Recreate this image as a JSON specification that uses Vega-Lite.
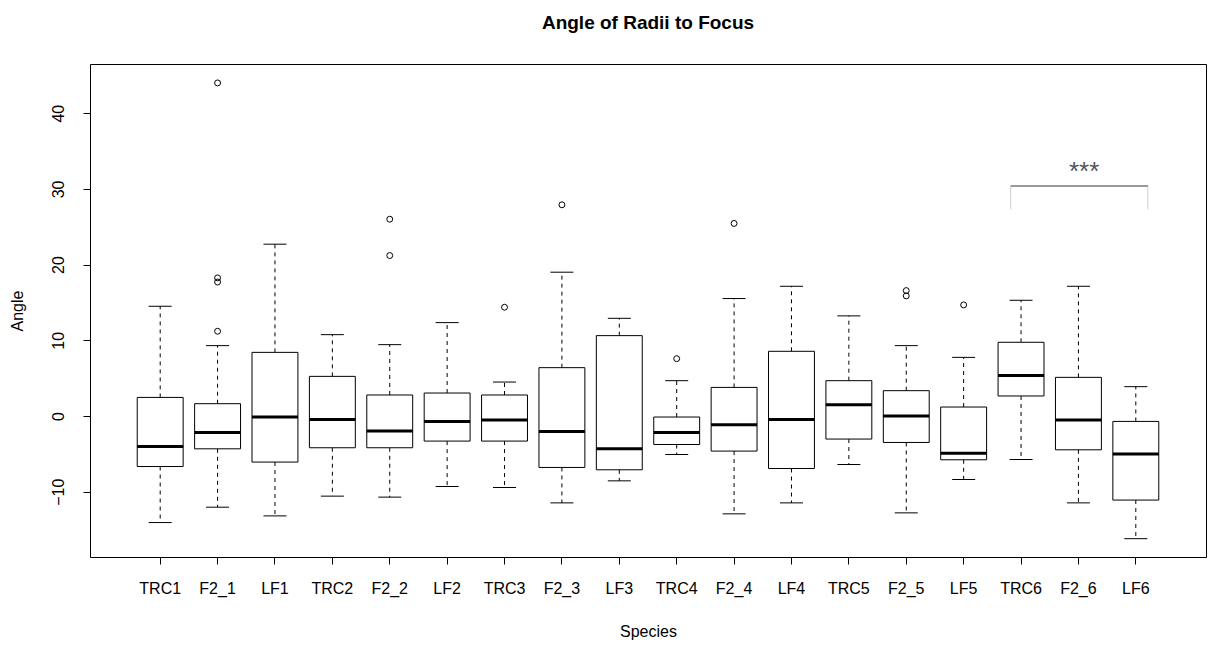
{
  "$schema": "https://vega.github.io/schema/vega-lite/v6.json",
  "width": 1116,
  "height": 493,
  "autosize": {"type": "none"},
  "padding": {"left": 90, "top": 64, "right": 2, "bottom": 89},
  "background": "white",
  "title": {"text": "Angle of Radii to Focus", "fontSize": 19, "fontWeight": "bold", "font": "Liberation Sans", "color": "black", "anchor": "middle", "offset": 16, "baseline": "alphabetic"},
  "config": {
    "view": {"stroke": "black", "strokeWidth": 1},
    "font": "Liberation Sans",
    "axis": {"domain": false, "grid": false, "tickColor": "black", "tickSize": 7, "tickWidth": 1, "labelColor": "black", "labelFont": "Liberation Sans", "labelFontSize": 16, "titleFont": "Liberation Sans", "titleFontSize": 16, "titleFontWeight": "normal", "titleColor": "black", "labelFlush": false, "labelOverlap": false},
    "axisX": {"labelAngle": 0, "labelPadding": 16, "titleY": 74, "titleBaseline": "middle"},
    "axisY": {"labelAngle": -90, "labelAlign": "center", "labelBaseline": "bottom", "labelPadding": 17, "titleX": -73, "titleBaseline": "middle"}
  },
  "datasets": {
    "boxes": [
      {"species": "TRC1", "lo": -14.07, "q1": -6.67, "med": -4.02, "q3": 2.46, "hi": 14.5},
      {"species": "F2_1", "lo": -12.04, "q1": -4.33, "med": -2.17, "q3": 1.63, "hi": 9.3},
      {"species": "LF1", "lo": -13.19, "q1": -6.08, "med": -0.13, "q3": 8.41, "hi": 22.7},
      {"species": "TRC2", "lo": -10.58, "q1": -4.19, "med": -0.45, "q3": 5.24, "hi": 10.75},
      {"species": "F2_2", "lo": -10.71, "q1": -4.19, "med": -1.98, "q3": 2.78, "hi": 9.43},
      {"species": "LF2", "lo": -9.31, "q1": -3.31, "med": -0.71, "q3": 3.04, "hi": 12.34},
      {"species": "TRC3", "lo": -9.44, "q1": -3.31, "med": -0.53, "q3": 2.78, "hi": 4.49},
      {"species": "F2_3", "lo": -11.47, "q1": -6.79, "med": -2.03, "q3": 6.39, "hi": 19.0},
      {"species": "LF3", "lo": -8.56, "q1": -7.1, "med": -4.33, "q3": 10.62, "hi": 12.91},
      {"species": "TRC4", "lo": -5.08, "q1": -3.76, "med": -2.17, "q3": -0.13, "hi": 4.67},
      {"species": "F2_4", "lo": -12.92, "q1": -4.63, "med": -1.15, "q3": 3.78, "hi": 15.52},
      {"species": "LF4", "lo": -11.47, "q1": -6.93, "med": -0.45, "q3": 8.55, "hi": 17.14},
      {"species": "TRC5", "lo": -6.4, "q1": -3.04, "med": 1.49, "q3": 4.67, "hi": 13.23},
      {"species": "F2_5", "lo": -12.79, "q1": -3.49, "med": 0.0, "q3": 3.35, "hi": 9.3},
      {"species": "LF5", "lo": -8.38, "q1": -5.78, "med": -4.9, "q3": 1.19, "hi": 7.75},
      {"species": "TRC6", "lo": -5.74, "q1": 2.65, "med": 5.37, "q3": 9.74, "hi": 15.29},
      {"species": "F2_6", "lo": -11.47, "q1": -4.46, "med": -0.53, "q3": 5.11, "hi": 17.14},
      {"species": "LF6", "lo": -16.2, "q1": -11.1, "med": -5.03, "q3": -0.71, "hi": 3.88}
    ],
    "outliers": [
      {"species": "F2_1", "angle": 44.0},
      {"species": "F2_1", "angle": 18.25},
      {"species": "F2_1", "angle": 17.7},
      {"species": "F2_1", "angle": 11.2},
      {"species": "F2_2", "angle": 26.0},
      {"species": "F2_2", "angle": 21.2},
      {"species": "TRC3", "angle": 14.37},
      {"species": "F2_3", "angle": 27.9},
      {"species": "TRC4", "angle": 7.58},
      {"species": "F2_4", "angle": 25.44},
      {"species": "F2_5", "angle": 16.57},
      {"species": "F2_5", "angle": 15.87},
      {"species": "LF5", "angle": 14.68}
    ],
    "bracket": [
      {"from": "TRC6", "to": "LF6", "mid": "F2_6", "top": 30.4, "foot": 27.3, "label": "***", "ly": 31.2}
    ]
  },
  "layer": [
    {
      "data": {"name": "boxes"},
      "mark": {"type": "rule", "color": "black", "strokeWidth": 1, "strokeDash": [4, 4]},
      "encoding": {
        "x": {"field": "species", "type": "nominal", "sort": null, "title": "Species", "scale": {"type": "band", "paddingInner": 0, "paddingOuter": 0.723, "domain": ["TRC1", "F2_1", "LF1", "TRC2", "F2_2", "LF2", "TRC3", "F2_3", "LF3", "TRC4", "F2_4", "LF4", "TRC5", "F2_5", "LF5", "TRC6", "F2_6", "LF6"]}},
        "y": {"field": "q3", "type": "quantitative", "title": "Angle", "scale": {"domain": [-18.62, 46.5], "nice": false, "zero": false}, "axis": {"values": [-10, 0, 10, 20, 30, 40]}},
        "y2": {"field": "hi"}
      }
    },
    {
      "data": {"name": "boxes"},
      "mark": {"type": "rule", "color": "black", "strokeWidth": 1, "strokeDash": [4, 4]},
      "encoding": {
        "x": {"field": "species", "type": "nominal", "sort": null, "title": "Species"},
        "y": {"field": "q1", "type": "quantitative", "title": "Angle", "axis": {"values": [-10, 0, 10, 20, 30, 40]}},
        "y2": {"field": "lo"}
      }
    },
    {
      "data": {"name": "boxes"},
      "mark": {"type": "bar", "fill": "white", "stroke": "black", "strokeWidth": 1, "width": {"band": 0.8}},
      "encoding": {
        "x": {"field": "species", "type": "nominal", "sort": null, "title": "Species"},
        "y": {"field": "q1", "type": "quantitative", "title": "Angle", "axis": {"values": [-10, 0, 10, 20, 30, 40]}},
        "y2": {"field": "q3"}
      }
    },
    {
      "data": {"name": "boxes"},
      "mark": {"type": "tick", "color": "black", "size": 46, "thickness": 3, "opacity": 1},
      "encoding": {
        "x": {"field": "species", "type": "nominal", "sort": null, "title": "Species"},
        "y": {"field": "med", "type": "quantitative", "title": "Angle", "axis": {"values": [-10, 0, 10, 20, 30, 40]}}
      }
    },
    {
      "data": {"name": "boxes"},
      "mark": {"type": "tick", "color": "black", "size": 23, "thickness": 1, "opacity": 1},
      "encoding": {
        "x": {"field": "species", "type": "nominal", "sort": null, "title": "Species"},
        "y": {"field": "hi", "type": "quantitative", "title": "Angle", "axis": {"values": [-10, 0, 10, 20, 30, 40]}}
      }
    },
    {
      "data": {"name": "boxes"},
      "mark": {"type": "tick", "color": "black", "size": 23, "thickness": 1, "opacity": 1},
      "encoding": {
        "x": {"field": "species", "type": "nominal", "sort": null, "title": "Species"},
        "y": {"field": "lo", "type": "quantitative", "title": "Angle", "axis": {"values": [-10, 0, 10, 20, 30, 40]}}
      }
    },
    {
      "data": {"name": "outliers"},
      "mark": {"type": "point", "shape": "circle", "filled": false, "stroke": "black", "strokeWidth": 1, "size": 35, "opacity": 1},
      "encoding": {
        "x": {"field": "species", "type": "nominal", "sort": null, "title": "Species"},
        "y": {"field": "angle", "type": "quantitative", "title": "Angle", "axis": {"values": [-10, 0, 10, 20, 30, 40]}}
      }
    },
    {
      "data": {"name": "bracket"},
      "mark": {"type": "rule", "color": "#d0d0d0", "strokeWidth": 1},
      "encoding": {
        "x": {"field": "from", "type": "nominal", "bandPosition": 0.32, "title": "Species"},
        "y": {"field": "foot", "type": "quantitative", "title": "Angle", "axis": {"values": [-10, 0, 10, 20, 30, 40]}},
        "y2": {"field": "top"}
      }
    },
    {
      "data": {"name": "bracket"},
      "mark": {"type": "rule", "color": "#d0d0d0", "strokeWidth": 1},
      "encoding": {
        "x": {"field": "to", "type": "nominal", "bandPosition": 0.71, "title": "Species"},
        "y": {"field": "foot", "type": "quantitative", "title": "Angle", "axis": {"values": [-10, 0, 10, 20, 30, 40]}},
        "y2": {"field": "top"}
      }
    },
    {
      "data": {"name": "bracket"},
      "mark": {"type": "rule", "color": "#777777", "strokeWidth": 1.5},
      "encoding": {
        "x": {"field": "from", "type": "nominal", "bandPosition": 0.32, "title": "Species"},
        "x2": {"field": "to", "bandPosition": 0.71},
        "y": {"field": "top", "type": "quantitative", "title": "Angle", "axis": {"values": [-10, 0, 10, 20, 30, 40]}}
      }
    },
    {
      "data": {"name": "bracket"},
      "mark": {"type": "text", "color": "#555555", "fontSize": 26, "font": "Liberation Sans", "align": "center", "baseline": "alphabetic"},
      "encoding": {
        "x": {"field": "mid", "type": "nominal", "bandPosition": 0.6, "title": "Species"},
        "y": {"field": "ly", "type": "quantitative", "title": "Angle", "axis": {"values": [-10, 0, 10, 20, 30, 40]}},
        "text": {"field": "label"}
      }
    }
  ]
}
